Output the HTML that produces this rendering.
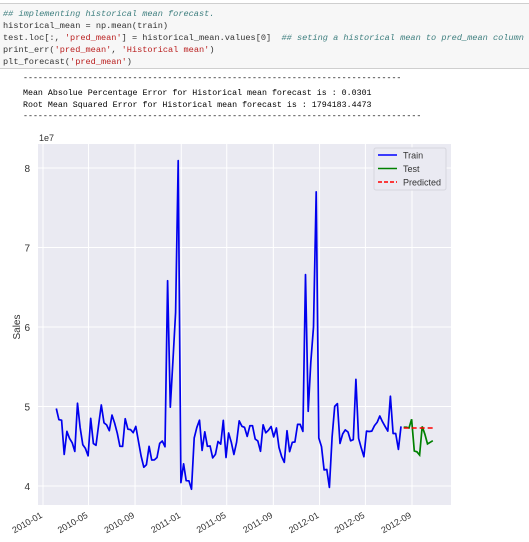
<!DOCTYPE html>
<html><head><meta charset="utf-8">
<style>
body{margin:0;width:529px;height:542px;background:#fff;overflow:hidden;font-family:"Liberation Sans",sans-serif;position:relative}
.code{position:absolute;left:0;top:3px;width:529px;height:64px;background:#f7f7f7;border-top:1px solid #cfcfcf;border-bottom:1px solid #cfcfcf;overflow:hidden}
.mono{font-family:"Liberation Mono",monospace;font-size:8.6px;white-space:pre;position:absolute;color:#333}
.out{font-size:8.3px;color:#000}
.cm{color:#408080;font-style:italic}.st{color:#ba2121}
</style></head><body>
<div class="code">
<div class="mono" style="left:3px;top:5px"><span class="cm">## implementing historical mean forecast.</span></div>
<div class="mono" style="left:3px;top:17px">historical_mean = np.mean(train)</div>
<div class="mono" style="left:3px;top:29px">test.loc[:, <span class="st">'pred_mean'</span>] = historical_mean.values[0]  <span class="cm">## seting a historical mean to pred_mean column</span></div>
<div class="mono" style="left:3px;top:41px">print_err(<span class="st">'pred_mean'</span>, <span class="st">'Historical mean'</span>)</div>
<div class="mono" style="left:3px;top:53px">plt_forecast(<span class="st">'pred_mean'</span>)</div>
</div>
<div class="mono out" style="left:23px;top:74px">----------------------------------------------------------------------------</div>
<div class="mono out" style="left:23px;top:89px">Mean Absolue Percentage Error for Historical mean forecast is : 0.0301</div>
<div class="mono out" style="left:23px;top:101px">Root Mean Squared Error for Historical mean forecast is : 1794183.4473</div>
<div class="mono out" style="left:23px;top:112px">--------------------------------------------------------------------------------</div>
<svg id="chart" width="529" height="542" style="position:absolute;left:0;top:0"></svg>
<script>
const trainStart="2010-02-05";
const trainValues=[4.975,4.834,4.828,4.397,4.687,4.600,4.543,4.435,5.042,4.737,4.518,4.473,4.380,4.850,4.533,4.512,4.776,5.019,4.795,4.768,4.696,4.892,4.792,4.663,4.500,4.498,4.846,4.715,4.710,4.670,4.750,4.560,4.377,4.237,4.267,4.500,4.327,4.328,4.359,4.536,4.566,4.494,6.582,4.991,5.567,6.182,8.093,4.043,4.278,4.067,4.065,3.960,4.604,4.734,4.828,4.448,4.682,4.499,4.503,4.353,4.398,4.560,4.527,4.826,4.359,4.667,4.550,4.396,4.551,4.819,4.751,4.738,4.624,4.758,4.759,4.590,4.567,4.437,4.770,4.669,4.701,4.748,4.618,4.730,4.484,4.368,4.297,4.696,4.432,4.550,4.553,4.775,4.775,4.687,6.659,4.939,5.556,6.000,7.699,4.604,4.496,4.202,4.208,3.983,4.617,5.001,5.037,4.536,4.655,4.706,4.679,4.569,4.584,5.342,4.600,4.480,4.369,4.690,4.686,4.690,4.760,4.800,4.880,4.810,4.750,4.690,5.130,4.660,4.660,4.460,4.750];
const testStart="2012-08-10";
const testValues=[4.74,4.74,4.73,4.84,4.44,4.43,4.39,4.75,4.65,4.53,4.55,4.57];
const predValue=4.73;
const yTicks=[4,5,6,7,8];
const xTickLabels=["2010-01","2010-05","2010-09","2011-01","2011-05","2011-09","2012-01","2012-05","2012-09"];

const svg=document.getElementById('chart');const NS="http://www.w3.org/2000/svg";
const L=38,R=451,T=144,B=505;
const d0=Date.parse("2010-01-01"),d1=Date.parse("2012-09-01");
function xs(t){return 43+(t-d0)/(d1-d0)*(412-43);}
function ys(v){return 486-(v-4)*79.5;}
function mk(tag,attrs,parent){const e=document.createElementNS(NS,tag);for(const k in attrs)e.setAttribute(k,attrs[k]);(parent||svg).appendChild(e);return e;}
const bg=mk('rect',{x:L,y:T,width:R-L,height:B-T,fill:'#eaeaf2'});


yTicks.forEach(v=>{const y=ys(v);
 const g=mk('line',{x1:L,x2:R,y1:y,y2:y,stroke:'#fff','stroke-width':1});
 
 
 const t=mk('text',{x:30,y:y+4,'font-size':10,fill:'#333','text-anchor':'end'});t.textContent=v;
 
 });
xTickLabels.forEach(s=>{const x=xs(Date.parse(s+"-01"));
 const g=mk('line',{x1:x,x2:x,y1:T,y2:B,stroke:'#fff','stroke-width':1});
 
 
 const t=mk('text',{x:x,y:B+12,'font-size':9,fill:'#333','text-anchor':'end',transform:`rotate(-30 ${x} ${B+12})`});t.textContent=s;
 
 });
const e7=mk('text',{x:39,y:141,'font-size':9,fill:'#333'});e7.textContent='1e7';


const yl=mk('text',{x:20,y:327,'font-size':10,fill:'#333','text-anchor':'middle',transform:'rotate(-90 20 327)'});yl.textContent='Sales';


function pts(start,vals){const s=Date.parse(start);return vals.map((v,i)=>xs(s+i*7*864e5).toFixed(1)+','+ys(v).toFixed(1)).join(' ');}
const tr=mk('polyline',{points:pts(trainStart,trainValues),fill:'none',stroke:'#0000ee','stroke-width':1.7,'stroke-linejoin':'round'});


const te=mk('polyline',{points:pts(testStart,testValues),fill:'none',stroke:'#008000','stroke-width':1.7});


const s=Date.parse(testStart),x1=xs(s),x2=xs(s+(testValues.length-1)*7*864e5);
const pr=mk('line',{x1:x1,x2:x2,y1:ys(predValue),y2:ys(predValue),stroke:'#ff0000','stroke-width':1.5,'stroke-dasharray':'5,3'});


const lg=mk('g',{});


mk('rect',{x:374,y:148,width:72,height:42,fill:'#eaeaf2',stroke:'#d5d5dd',rx:2},lg);
[['Train','#0000ff',null],['Test','#008000',null],['Predicted','#ff0000','4,2']].forEach((e,i)=>{const y=155+i*13.5;
 const ln=mk('line',{x1:378,x2:397,y1:y,y2:y,stroke:e[1],'stroke-width':1.5},lg);if(e[2])ln.setAttribute('stroke-dasharray',e[2]);
 const t=mk('text',{x:403,y:y+3.5,'font-size':9,fill:'#333'},lg);t.textContent=e[0];
 
 });
</script>
</body></html>
